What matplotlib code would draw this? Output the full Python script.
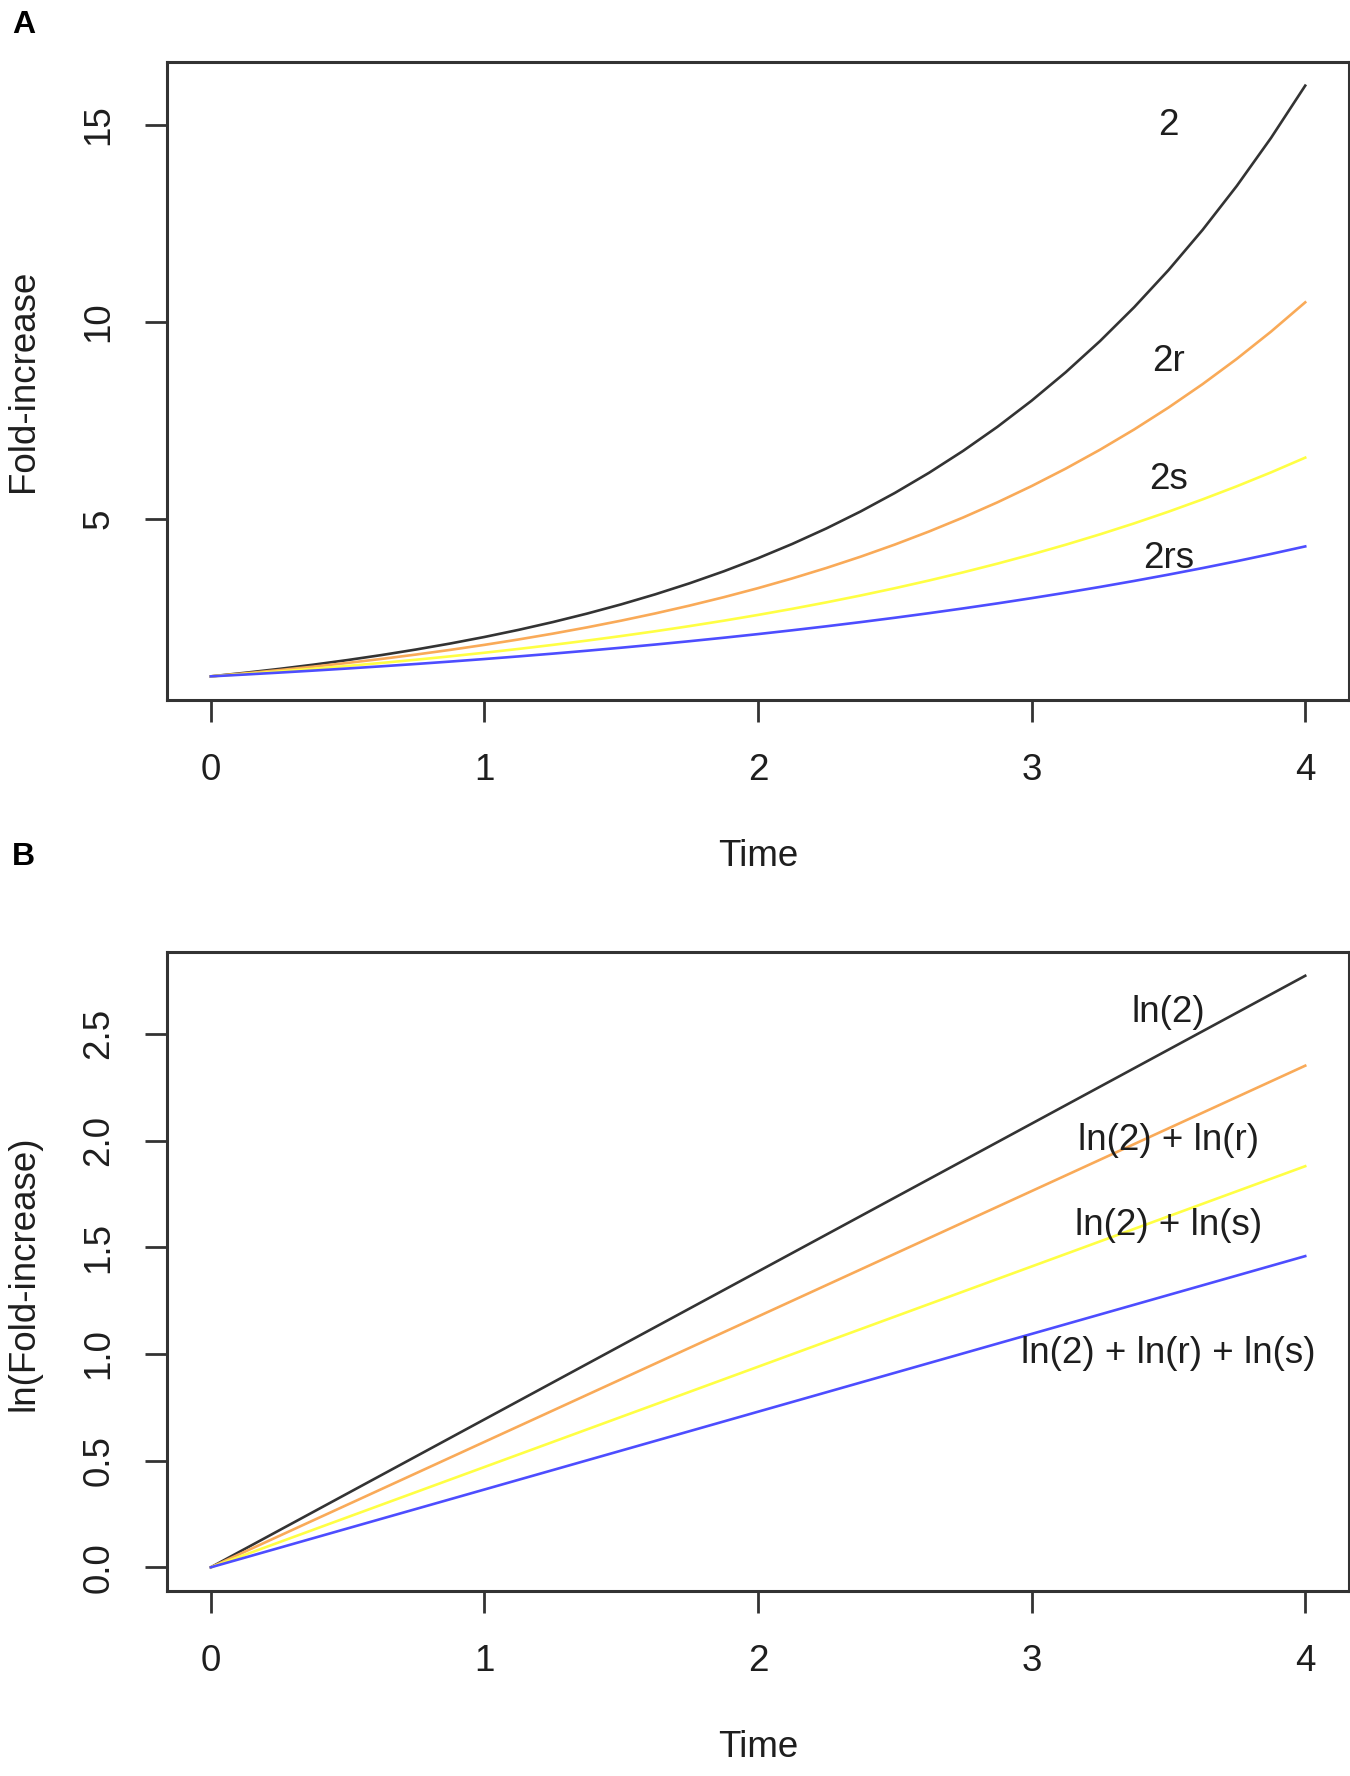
import numpy as np
import matplotlib
matplotlib.use("Agg")
import matplotlib.pyplot as plt

plt.rcParams['font.family'] = ['Liberation Sans', 'DejaVu Sans']

# ---- data ----
time = [0.0, 0.125, 0.25, 0.375, 0.5, 0.625, 0.75, 0.875,
        1.0, 1.125, 1.25, 1.375, 1.5, 1.625, 1.75, 1.875,
        2.0, 2.125, 2.25, 2.375, 2.5, 2.625, 2.75, 2.875,
        3.0, 3.125, 3.25, 3.375, 3.5, 3.625, 3.75, 3.875, 4.0]
fold_2 = [1.0, 1.0905, 1.1892, 1.2968, 1.4142, 1.5422, 1.6818, 1.8340,
          2.0, 2.1810, 2.3784, 2.5937, 2.8284, 3.0844, 3.3636, 3.6680,
          4.0, 4.3621, 4.7568, 5.1874, 5.6569, 6.1688, 6.7272, 7.3361,
          8.0, 8.7241, 9.5137, 10.3747, 11.3137, 12.3377, 13.4543, 14.6721, 16.0]
fold_2r = [1.0, 1.0762, 1.1583, 1.2466, 1.3416, 1.4439, 1.5540, 1.6725,
           1.8, 1.9372, 2.0849, 2.2439, 2.4150, 2.5991, 2.7973, 3.0105,
           3.24, 3.4870, 3.7529, 4.0390, 4.3469, 4.6783, 5.0350, 5.4189,
           5.832, 6.2766, 6.7552, 7.2702, 7.8245, 8.4210, 9.0630, 9.7540, 10.4976]
fold_2s = [1.0, 1.0605, 1.1247, 1.1927, 1.2649, 1.3415, 1.4226, 1.5087,
           1.6, 1.6968, 1.7995, 1.9084, 2.0239, 2.1463, 2.2762, 2.4139,
           2.56, 2.7149, 2.8792, 3.0534, 3.2382, 3.4341, 3.6419, 3.8623,
           4.096, 4.3438, 4.6067, 4.8854, 5.1811, 5.4946, 5.8271, 6.1797, 6.5536]
fold_2rs = [1.0, 1.0466, 1.0954, 1.1465, 1.2, 1.2560, 1.3145, 1.3758,
            1.44, 1.5072, 1.5774, 1.6510, 1.728, 1.8086, 1.8929, 1.9812,
            2.0736, 2.1703, 2.2715, 2.3775, 2.4883, 2.6044, 2.7258, 2.8530,
            2.9860, 3.1252, 3.2710, 3.4235, 3.5832, 3.7503, 3.9251, 4.1083, 4.2998]

series_names = ["2", "2r", "2s", "2rs"]
log_names = ["ln(2)", "ln(2) + ln(r)", "ln(2) + ln(s)", "ln(2) + ln(r) + ln(s)"]
label_y_A = [15, 9, 6, 4]
label_y_B = [2.6, 2.0, 1.6, 1.0]
label_x = 3.5
colors = ['#333333', '#F9AA58', '#FFFF44', '#4D4DFF']

xticks = [0, 1, 2, 3, 4]
yticks_A = [5, 10, 15]
yticks_B = [0.0, 0.5, 1.0, 1.5, 2.0, 2.5]
yticklabels_B = ["0.0", "0.5", "1.0", "1.5", "2.0", "2.5"]

W, H = 1350, 1776
fig = plt.figure(figsize=(W / 100, H / 100), dpi=100)

FS = 26.5
BOXC = '#333333'
TXTC = '#1e1e1e'


def make_axes(top_px, bottom_px):
    left_px, right_px = 167, 1349
    return fig.add_axes([left_px / W, 1 - bottom_px / H,
                         (right_px - left_px) / W, (bottom_px - top_px) / H])


def style(ax):
    for sp in ax.spines.values():
        sp.set_color(BOXC)
        sp.set_linewidth(2.2)
    ax.tick_params(axis='both', direction='out', length=15.5, width=2.0,
                   color=BOXC, labelsize=FS, labelcolor=TXTC)
    ax.tick_params(axis='x', pad=23)
    ax.tick_params(axis='y', pad=21)
    for lab in ax.get_yticklabels():
        lab.set_rotation(90)
        lab.set_va('center')


series = [fold_2, fold_2r, fold_2s, fold_2rs]

# ---- Panel A ----
axA = make_axes(62, 700)
for vals, c in zip(series, colors):
    axA.plot(time, vals, color=c, lw=1.9, solid_joinstyle='round')
for name, yv in zip(series_names, label_y_A):
    axA.text(label_x, yv, name, ha='center', va='center', fontsize=FS, color=TXTC)
axA.set_xlim(-0.16, 4.16)
axA.set_ylim(0.4, 16.6)
axA.set_xticks(xticks)
axA.set_yticks(yticks_A)
style(axA)

# ---- Panel B ----
axB = make_axes(952, 1591)
for vals, c in zip(series, colors):
    axB.plot(time, np.log(vals), color=c, lw=1.9, solid_joinstyle='round')
for name, yv in zip(log_names, label_y_B):
    axB.text(label_x, yv, name, ha='center', va='center', fontsize=FS, color=TXTC)
axB.set_xlim(-0.16, 4.16)
axB.set_ylim(-0.111, 2.884)
axB.set_xticks(xticks)
axB.set_yticks(yticks_B)
axB.set_yticklabels(yticklabels_B)
style(axB)

# ---- axis titles & panel letters ----
cx = (167 + 1349) / 2 / W
fig.text(cx, 1 - 856 / H, "Time", ha='center', va='center', fontsize=FS, color=TXTC)
fig.text(cx, 1 - 1747 / H, "Time", ha='center', va='center', fontsize=FS, color=TXTC)
fig.text(24 / W, 1 - 381 / H, "Fold-increase", rotation=90, ha='center', va='center',
         fontsize=FS, color=TXTC)
fig.text(24 / W, 1 - 1273 / H, "ln(Fold-increase)", rotation=90, ha='center', va='center',
         fontsize=FS, color=TXTC)
fig.text(12 / W, 1 - 33 / H, "A", fontsize=23, fontweight='bold', ha='left', va='baseline')
fig.text(12 / W, 1 - 865 / H, "B", fontsize=23, fontweight='bold', ha='left', va='baseline')

fig.savefig("out.png", dpi=100, facecolor='white')
